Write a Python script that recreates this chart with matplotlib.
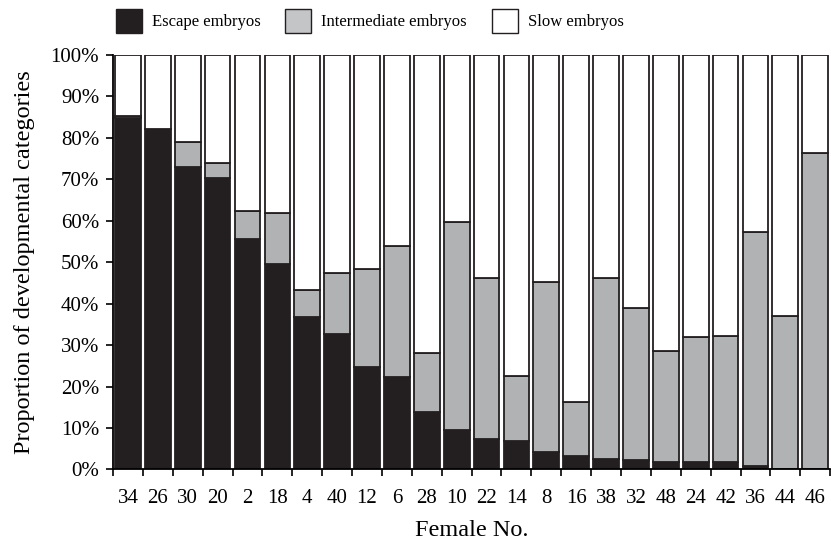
import matplotlib.pyplot as plt
import matplotlib.patches as mpatches
import numpy as np

plt.rcParams['font.family'] = ['Liberation Serif', 'DejaVu Serif']

# female IDs ordered by share of escape embryos
females = ['34', '26', '30', '20', '2', '18', '4', '40', '12', '6', '28', '10',
           '22', '14', '8', '16', '38', '32', '48', '24', '42', '36', '44', '46']
escape = [84.7, 82.1, 72.9, 70.3, 55.5, 49.6, 36.7, 32.8, 24.7, 22.2, 13.8, 9.5,
          7.4, 6.8, 4.1, 3.2, 2.5, 2.4, 1.8, 1.8, 1.7, 0.9, 0.0, 0.0]
# cumulative top of the intermediate segment
escape_plus_inter = [85.3, 82.1, 78.9, 73.9, 62.3, 61.9, 43.3, 47.3, 48.3, 53.8, 28.2, 59.7,
                     46.3, 22.6, 45.3, 16.3, 46.3, 38.9, 28.6, 32.0, 32.3, 57.4, 37.1, 76.4]

escape = np.array(escape)
inter = np.array(escape_plus_inter) - escape
slow = 100 - escape - inter

c_escape = '#231f20'
c_inter = '#b1b2b4'
c_slow = '#ffffff'
edge = '#231f20'

fig = plt.figure(figsize=(8.31, 5.44), dpi=100)
ax = fig.add_axes([0.136, 0.137, 0.863, 0.762])

x = np.arange(len(females))
w = 0.86
kw = dict(width=w, edgecolor=edge, linewidth=1.3)
ax.bar(x, escape, color=c_escape, **kw)
ax.bar(x, inter, bottom=escape, color=c_inter, **kw)
ax.bar(x, slow, bottom=escape + inter, color=c_slow, **kw)

ax.set_xlim(-0.5, len(females) - 0.5)
ax.set_ylim(0, 100)
ax.set_yticks(np.arange(0, 101, 10))
ax.set_yticklabels([f'{v}%' for v in range(0, 101, 10)])

# ticks sit at category boundaries, labels at the centres
ax.set_xticks(np.arange(-0.5, len(females), 1))
ax.set_xticklabels([])
ax.set_xticks(x, minor=True)
ax.set_xticklabels(females, minor=True)
ax.tick_params(axis='x', which='minor', length=0, pad=14, labelsize=15)
ax.tick_params(axis='x', which='major', length=5, width=1.2, direction='out')
ax.tick_params(axis='y', length=5, width=1.2, direction='out', labelsize=15, pad=5)

for side in ['top', 'right']:
    ax.spines[side].set_visible(False)
for side in ['left', 'bottom']:
    ax.spines[side].set_linewidth(1.3)

ax.set_xlabel('Female No.', fontsize=17.5, labelpad=9)
ax.set_ylabel('Proportion of developmental categories', fontsize=17.5, labelpad=11)

handles = [
    mpatches.Patch(facecolor=c_escape, edgecolor=edge, linewidth=1.0, label='Escape embryos'),
    mpatches.Patch(facecolor='#c4c5c7', edgecolor=edge, linewidth=1.0, label='Intermediate embryos'),
    mpatches.Patch(facecolor=c_slow, edgecolor=edge, linewidth=1.0, label='Slow embryos'),
]
fig.legend(handles=handles, loc='upper left', bbox_to_anchor=(0.121, 1.011), ncol=3,
           frameon=False, fontsize=12, handlelength=1.56, handleheight=1.8,
           handletextpad=0.6, columnspacing=1.5)

plt.savefig('out.png', dpi=100)
